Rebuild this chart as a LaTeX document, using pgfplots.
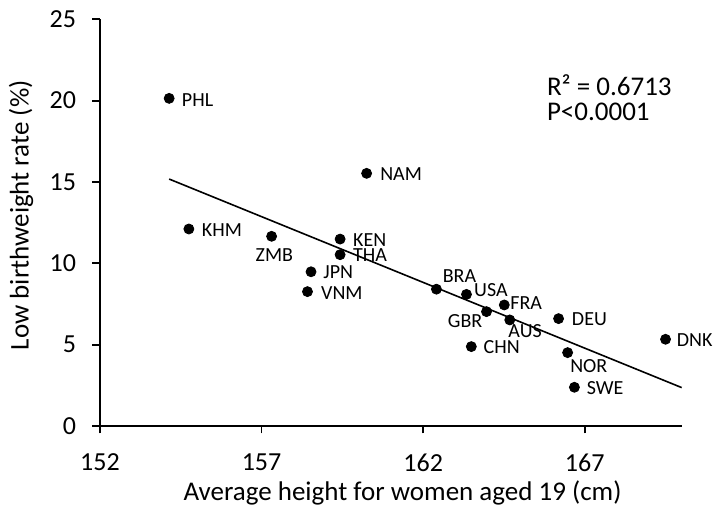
\documentclass[border=0pt]{standalone}
\usepackage{pgfplots}
\pgfplotsset{compat=1.18}
\usepackage{pgfplotstable}
\usepackage{fontspec}
\setmainfont{Carlito}

% country, height (cm), low birthweight rate (%), label offset (pt)
\pgfplotstableread{
x      y     label dx    dy
154.14 20.14 PHL   6.2   -0.7
160.25 15.53 NAM   6.65  -0.6
154.75 12.11 KHM   6.35  -0.35
157.31 11.66 ZMB   -8.15 -9.3
159.43 11.49 KEN   6.3   -0.5
159.43 10.53 THA   6.3   0
158.53 9.48  JPN   6.0   -0.4
158.42 8.26  VNM   6.65  -0.65
162.41 8.41  BRA   3.0   6.75
163.34 8.09  USA   3.65  2.15
164.51 7.44  FRA   2.85  1.0
163.96 7.03  GBR   -19.5 -4.75
164.68 6.52  AUS   -0.85 -5.6
166.19 6.60  DEU   6.5   -0.25
163.49 4.88  CHN   6.0   -0.25
166.47 4.51  NOR   1.15  -6.8
166.68 2.38  SWE   6.0   -0.25
169.50 5.33  DNK   5.5   -0.35
}\countries

\begin{document}
\begin{tikzpicture}
\useasboundingbox (-50pt,-44pt) rectangle (311.5pt,213pt);
\begin{axis}[
    scale only axis,
    width=290.85pt, height=203.35pt,
    xmin=152, xmax=170, ymin=0, ymax=25,
    axis x line*=bottom, axis y line*=left,
    axis line style={line width=0.9pt},
    xtick={152,157,162,167}, ytick={0,5,...,25},
    tick align=outside, major tick length=3.75pt,
    tick style={black, line width=0.9pt},
    /pgf/number format/assume math mode=true,
    ticklabel style={font=\fontsize{13}{15}\selectfont},
    xticklabel style={anchor=north, inner sep=0pt, yshift=-10pt},
    yticklabel style={anchor=east, inner sep=0pt, xshift=-8pt},
    xlabel={Average height for women aged 19 (cm)},
    ylabel={Low birthweight rate (\%)},
    label style={font=\fontsize{13.5}{15}\selectfont},
    xlabel style={at={(axis description cs:0.52,-0.182)}, anchor=base},
    ylabel style={at={(axis description cs:-0.1358,0.518)}, anchor=center},
    clip=false,
]
\addplot[black, line width=0.8pt] coordinates {(154.14,15.18) (170.0,2.36)};
\addplot[only marks, mark=*, mark size=2.5pt, black,
    point meta=explicit symbolic, nodes near coords,
    visualization depends on={\thisrow{dx} \as \dx},
    visualization depends on={\thisrow{dy} \as \dy},
    every node near coord/.append style={anchor=west, inner sep=0pt,
        xshift=\dx pt, yshift=\dy pt, text=black,
        font=\fontsize{10}{12}\selectfont}]
    table[x=x, y=y, meta=label] {\countries};
\node[anchor=base west, align=left, inner sep=0pt,
    font=\fontsize{13.5}{12.7}\selectfont] at (axis cs:165.82,18.76)
    {R² = 0.6713\\P<0.0001};
\end{axis}
\end{tikzpicture}
\end{document}
